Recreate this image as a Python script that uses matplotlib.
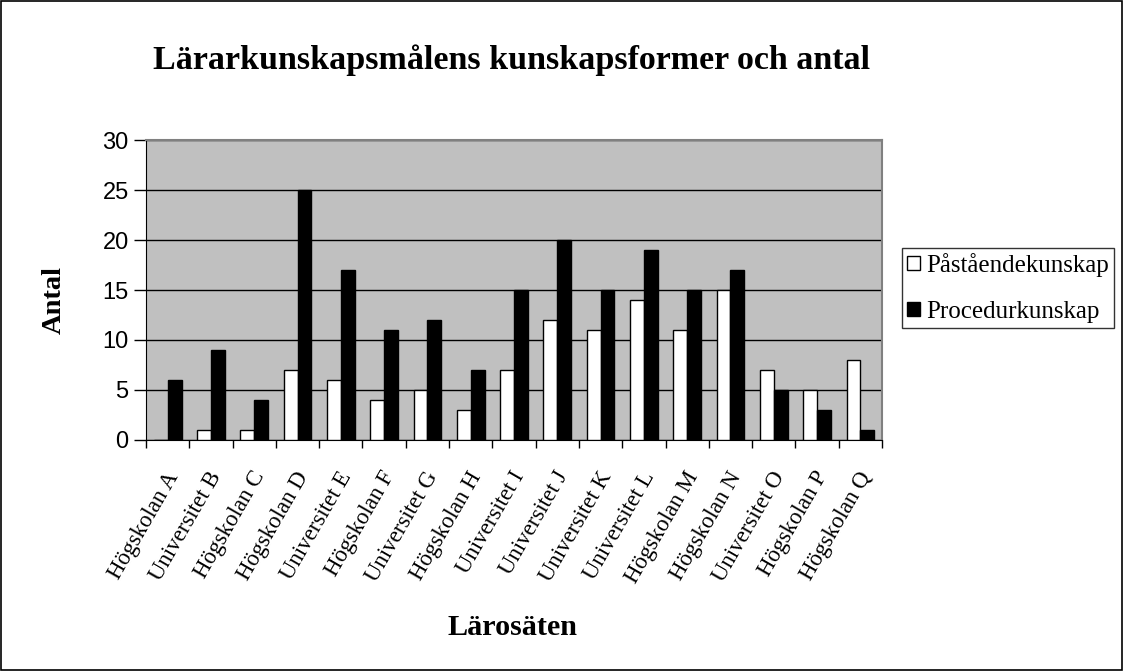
import matplotlib
matplotlib.use("Agg")
import matplotlib.pyplot as plt
import matplotlib.transforms as mtransforms
import numpy as np
from matplotlib.patches import Rectangle

categories = ["Högskolan A", "Universitet B", "Högskolan C", "Högskolan D", "Universitet E",
              "Högskolan F", "Universitet G", "Högskolan H", "Universitet I", "Universitet J",
              "Universitet K", "Universitet L", "Högskolan M", "Högskolan N", "Universitet O",
              "Högskolan P", "Högskolan Q"]
pastaende = [0, 1, 1, 7, 6, 4, 5, 3, 7, 12, 11, 14, 11, 15, 7, 5, 8]
procedur = [6, 9, 4, 25, 17, 11, 12, 7, 15, 20, 15, 19, 15, 17, 5, 3, 1]
yticks = [0, 5, 10, 15, 20, 25, 30]

serif = "Liberation Serif"
sans = "Liberation Sans"

fig = plt.figure(figsize=(11.24, 6.71), dpi=100)
fig.patch.set_facecolor("white")
fig.add_artist(Rectangle((0.0005, 0.0008), 0.998, 0.998, transform=fig.transFigure,
                         fill=False, edgecolor="black", linewidth=1.2))

ax = fig.add_axes([0.1299, 0.3443, 0.6548, 0.447])
ax.set_facecolor("#C0C0C0")

x = np.arange(len(categories))
w = 0.32
ax.bar(x - w/2, pastaende, w, color="white", edgecolor="black", linewidth=1.0,
       label="Påståendekunskap", zorder=3)
ax.bar(x + w/2, procedur, w, color="black", edgecolor="black", linewidth=1.0,
       label="Procedurkunskap", zorder=3)

ax.set_xlim(-0.5, len(categories) - 0.5)
ax.set_ylim(0, 30)
ax.set_yticks(yticks)
ax.set_yticklabels([str(v) for v in yticks], fontfamily=sans, fontsize=17)
ax.yaxis.grid(True, color="black", linewidth=1.0, zorder=1)
ax.set_axisbelow(True)

ax.set_xticks(np.arange(len(categories) + 1) - 0.5)
ax.set_xticklabels([])
ax.set_xticks(x, minor=True)
ax.set_xticklabels(categories, minor=True, rotation=60, ha="right", va="top",
                   rotation_mode="anchor", fontfamily=serif, fontsize=16.5)
ax.tick_params(axis="x", which="minor", length=0, pad=20)
ax.tick_params(axis="x", which="major", length=6, direction="out", width=1)
ax.tick_params(axis="y", length=8.5, direction="out", width=1, pad=4)
offset = mtransforms.ScaledTranslation(-3/100, 0, fig.dpi_scale_trans)
for lab in ax.xaxis.get_minorticklabels():
    lab.set_transform(lab.get_transform() + offset)

for s in ["top", "right"]:
    ax.spines[s].set_color("#808080")
    ax.spines[s].set_linewidth(1.5)
ax.spines["left"].set_color("black")
ax.spines["bottom"].set_color("black")

fig.text(0.455, 1 - 69/671, "Lärarkunskapsmålens kunskapsformer och antal", ha="center",
         va="baseline", fontfamily=serif, fontsize=24.5, fontweight="bold")
fig.text(0.048, 0.553, "Antal", ha="center", va="center", rotation=90,
         fontfamily=serif, fontsize=20.5, fontweight="bold")
fig.text(0.456, 1 - 635/671, "Lärosäten", ha="center", va="baseline",
         fontfamily=serif, fontsize=21.7, fontweight="bold")

leg = fig.legend(loc="upper left", bbox_to_anchor=(0.8025, 0.6304), frameon=True,
                 prop={"family": serif, "size": 18}, handlelength=0.5, handleheight=0.5,
                 handletextpad=0.25, borderpad=0.2, borderaxespad=0, labelspacing=0.95,
                 fancybox=False)
leg.get_frame().set_edgecolor("black")
leg.get_frame().set_linewidth(1.0)

fig.savefig("out.png", dpi=100)
